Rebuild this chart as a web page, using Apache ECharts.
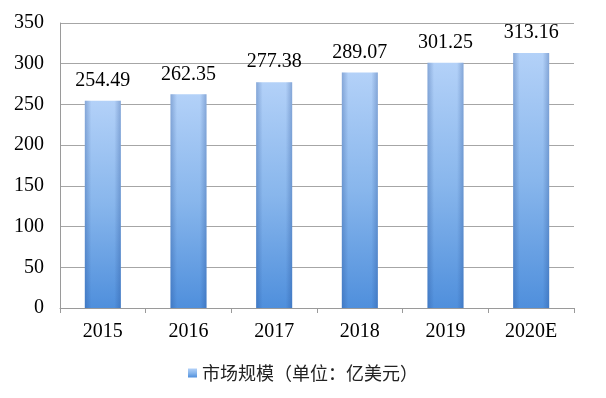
<!DOCTYPE html>
<html>
<head>
<meta charset="utf-8">
<script src="https://cdn.jsdelivr.net/npm/echarts@6/dist/echarts.min.js"></script>
<style>
  html, body { margin: 0; padding: 0; background: #fff; }
  #main { width: 606px; height: 398px; }
</style>
</head>
<body>
<div id="main"></div>
<script>
var categories = ['2015', '2016', '2017', '2018', '2019', '2020E'];
var values = [254.49, 262.35, 277.38, 289.07, 301.25, 313.16];
var seriesName = '市场规模（单位：亿美元）';

var chart = echarts.init(document.getElementById('main'));
var serif = '"Liberation Serif", "Times New Roman", serif';

var option = {
  backgroundColor: '#fff',
  animation: false,
  grid: { left: 60, right: 32, top: 23, bottom: 90 },
  legend: {
    bottom: 11,
    left: 'center',
    icon: 'rect',
    itemWidth: 9,
    itemHeight: 9,
    itemGap: 4,
    data: [seriesName],
    textStyle: { fontFamily: '"Noto Sans CJK SC", sans-serif', fontSize: 18, color: '#222' }
  },
  xAxis: {
    type: 'category',
    data: categories,
    axisLine: { lineStyle: { color: '#9a9a9a', width: 1 } },
    axisTick: { show: true, length: 5, lineStyle: { color: '#9a9a9a' } },
    axisLabel: { fontFamily: serif, fontSize: 20, color: '#000', margin: 14 }
  },
  yAxis: {
    type: 'value',
    min: 0,
    max: 350,
    interval: 50,
    axisLine: { show: true, lineStyle: { color: '#9a9a9a', width: 1 } },
    axisTick: { show: false },
    splitLine: { lineStyle: { color: '#a6a6a6', width: 1 } },
    axisLabel: { fontFamily: serif, fontSize: 20, color: '#000', margin: 16 }
  },
  series: [
    {
      name: seriesName,
      type: 'bar',
      data: values,
      barWidth: 36,
      itemStyle: {
        color: new echarts.graphic.LinearGradient(0, 0, 0, 1, [
          { offset: 0, color: '#b3d1f8' },
          { offset: 0.5, color: '#88b6ec' },
          { offset: 1, color: '#4f8fdc' }
        ])
      },
      label: {
        show: true,
        position: 'top',
        distance: 10,
        fontFamily: serif,
        fontSize: 20,
        color: '#000',
        formatter: function (p) { return p.value.toFixed(2); }
      }
    },
    {
      name: 'shade',
      type: 'bar',
      data: values,
      barWidth: 36,
      barGap: '-100%',
      silent: true,
      itemStyle: {
        color: new echarts.graphic.LinearGradient(0, 0, 1, 0, [
          { offset: 0, color: 'rgba(30,70,140,0.3)' },
          { offset: 0.18, color: 'rgba(30,70,140,0.0)' },
          { offset: 0.82, color: 'rgba(30,70,140,0.0)' },
          { offset: 1, color: 'rgba(30,70,140,0.3)' }
        ])
      }
    }
  ]
};

chart.setOption(option);
</script>
</body>
</html>
